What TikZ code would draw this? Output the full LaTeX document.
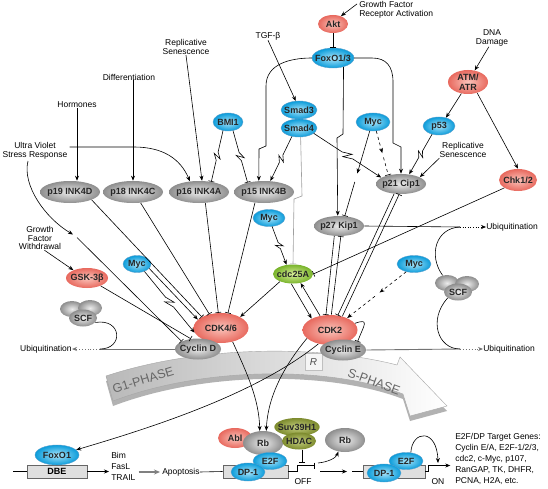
\documentclass[tikz,border=0pt]{standalone}
\usepackage{fontspec}
\setmainfont{Liberation Sans}
\usetikzlibrary{arrows.meta, positioning, calc, shapes.geometric}

\definecolor{redout}{HTML}{E8695E}
\definecolor{redin}{HTML}{FAC4BB}
\definecolor{blueout}{HTML}{0B9CDA}
\definecolor{bluein}{HTML}{A9E4FA}
\definecolor{blueline}{HTML}{1477B8}
\definecolor{grayout}{HTML}{8E8E8E}
\definecolor{grayin}{HTML}{ECECEC}
\definecolor{greenout}{HTML}{79B42B}
\definecolor{greenin}{HTML}{D9EE9A}
\definecolor{oliveout}{HTML}{7D8B2E}
\definecolor{olivein}{HTML}{C2CD7C}

\newcommand{\lblfont}{\fontsize{8.5}{9.5}\selectfont}
\newcommand{\molfont}{\fontsize{9}{9.5}\selectfont\bfseries}

% arrow, gap, then a bar (repression through an intermediate)
\newcommand{\actgap}[3][]{%
    \draw[act,#1] (#2) -- ($(#2)!0.5!(#3)$);
    \draw[inh,#1] ($(#2)!0.6!(#3)$) -- (#3);}
% arrow, gap, arrow
\newcommand{\actact}[3][]{%
    \draw[act,#1] (#2) -- ($(#2)!0.45!(#3)$);
    \draw[act,#1] ($(#2)!0.53!(#3)$) -- (#3);}

\tikzset{
    mol/.style={ellipse, inner xsep=-3pt, inner ysep=0pt, font=\molfont, text=black!85, align=center},
    redmol/.style={mol, shading=radial, inner color=redin, outer color=redout},
    bluemol/.style={mol, shading=radial, inner color=bluein, outer color=blueout, draw=blueline!70, line width=0.4pt},
    graymol/.style={mol, shading=radial, inner color=grayin, outer color=grayout},
    greenmol/.style={mol, shading=radial, inner color=greenin, outer color=greenout},
    olivemol/.style={mol, shading=radial, inner color=olivein, outer color=oliveout},
    molsm/.style={minimum width=30, minimum height=18},
    inkbox/.style={minimum width=60, minimum height=22},
    cdkbox/.style={minimum width=55, minimum height=30},
    lbl/.style={font=\lblfont, align=center, inner sep=0pt},
    dnabox/.style={draw=black!60, fill=gray!25, minimum height=13, inner sep=0pt},
    act/.style={-{Stealth[length=5pt,width=4pt]}},
    inh/.style={-{Bar[width=6pt]}},
    ubq/.style={black!55, line width=0.9pt},
    % lightning-bolt break in the middle of a connector
    zig/.style={to path={-- ($(\tikztostart)!.42!(\tikztotarget)$)
        -- ($(\tikztostart)!.54!(\tikztotarget)!3.5pt!90:(\tikztotarget)$)
        -- ($(\tikztostart)!.46!(\tikztotarget)!3.5pt!-90:(\tikztotarget)$)
        -- ($(\tikztostart)!.58!(\tikztotarget)$) -- (\tikztotarget) \tikztonodes}},
}

\begin{document}
\begin{tikzpicture}[x=1pt, y=-1pt, line width=0.6pt, color=black]
    \fill[white] (0,0) rectangle (548,489);
    \useasboundingbox (0,0) rectangle (548,489);

    % cell cycle band
    \fill[gray!60] (106,381) .. controls (200,350) and (320,350) .. (397,370) -- (400,362) -- (447,411) -- (410,421) -- (403,399) .. controls (330,371) and (205,371) .. (113,406) -- cycle;
    \shadedraw[left color=gray!55, right color=white, draw=gray!70, line width=0.4pt] (106,376) .. controls (200,345) and (320,345) .. (397,365) -- (400,357) -- (447,406) -- (410,416) -- (403,394) .. controls (330,366) and (205,366) .. (113,401) -- cycle;
    \node[draw=gray!50, fill=gray!8, minimum width=17, minimum height=17, inner sep=0pt, font=\fontsize{10}{10}\selectfont\itshape, text=black!70] (rpoint) at (313.5,362) {R};
    \node[rotate=17, font=\fontsize{12.5}{12.5}\selectfont, text=black!60] (gone) at (143,380) {G1-PHASE};
    \node[rotate=-20, font=\fontsize{12.5}{12.5}\selectfont, text=black!60] (sphase) at (374,382) {S-PHASE};

    % labels
    \node[lbl, anchor=west, align=left] (gfr) at (359,10) {Growth Factor\\Receptor Activation};
    \node[lbl] (tgf) at (268,36) {TGF-β};
    \node[lbl] (repsenA) at (186,47) {Replicative\\Senescence};
    \node[lbl] (diff) at (129,77) {Differentiation};
    \node[lbl] (horm) at (77,105) {Hormones};
    \node[lbl] (uv) at (35,151) {Ultra Violet\\Stress Response};
    \node[lbl] (dna) at (492,38) {DNA\\Damage};
    \node[lbl] (repsenB) at (463,150) {Replicative\\Senescence};
    \node[lbl, font=\fontsize{8.5}{8.8}\selectfont] (gfw) at (40,238) {Growth\\Factor\\Withdrawal};
    \node[lbl, anchor=west] (ubA) at (486,227) {Ubiquitination};
    \node[lbl, anchor=west] (ubB) at (483,349) {Ubiquitination};
    \node[lbl, anchor=east] (ubC) at (72,349) {Ubiquitination};

    % upstream molecules
    \node[redmol, molsm] (akt) at (333,24) {Akt};
    \node[bluemol, minimum width=42, minimum height=20] (foxo) at (333,58) {FoxO1/3};
    \node[bluemol, molsm] (bmi) at (228,122) {BMI1};
    \node[bluemol, minimum width=36, minimum height=18] (smadC) at (299,110) {Smad3};
    \node[bluemol, minimum width=36, minimum height=18] (smadD) at (299,128) {Smad4};
    \node[bluemol, minimum width=34, minimum height=18] (mycA) at (373,122) {Myc};
    \node[redmol, minimum width=40, minimum height=24] (atm) at (468,82) {ATM/\\ATR};
    \node[bluemol, minimum width=32, minimum height=18] (p53) at (439,126) {p53};

    % CDK inhibitors
    \node[graymol, inkbox] (p19) at (70,192) {p19 INK4D};
    \node[graymol, inkbox] (p18) at (133,192) {p18 INK4C};
    \node[graymol, inkbox] (p16) at (199,192) {p16 INK4A};
    \node[graymol, inkbox] (p15) at (264,192) {p15 INK4B};
    \node[graymol, minimum width=50, minimum height=20] (p21) at (401,184) {p21 Cip1};
    \node[graymol, minimum width=50, minimum height=20] (p27) at (339,226) {p27 Kip1};
    \node[redmol, minimum width=38, minimum height=22] (chk) at (518,180) {Chk1/2};

    \node[bluemol, minimum width=32, minimum height=17] (mycB) at (269,218) {Myc};
    \node[greenmol, minimum width=40, minimum height=19] (cdc) at (293,274) {cdc25A};
    \node[redmol, minimum width=42, minimum height=20] (gsk) at (87,278) {GSK-3β};
    \node[bluemol, minimum width=28, minimum height=17] (mycC) at (137,264) {Myc};
    \node[bluemol, minimum width=34, minimum height=17] (mycD) at (414,264) {Myc};

    % SCF complexes
    \node[graymol, minimum width=24, minimum height=16] (scfRa) at (447,283) {};
    \node[graymol, minimum width=24, minimum height=16] (scfRb) at (467,284) {};
    \node[graymol, minimum width=28, minimum height=17] (scfR) at (458,292) {SCF};
    \node[graymol, minimum width=24, minimum height=16] (scfLa) at (72,309) {};
    \node[graymol, minimum width=24, minimum height=16] (scfLb) at (90,308) {};
    \node[graymol, minimum width=28, minimum height=17] (scfL) at (83,318) {SCF};

    % CDK/cyclin
    \node[redmol, cdkbox] (cdk46) at (221,328) {CDK4/6};
    \node[redmol, cdkbox] (cdk2) at (330,330) {CDK2};
    \node[graymol, minimum width=46, minimum height=21] (cycD) at (198,349) {Cyclin D};
    \node[graymol, minimum width=46, minimum height=21] (cycE) at (343,350) {Cyclin E};

    % promoters
    \node[dnabox, minimum width=60, font=\molfont] (dbe) at (57,471.5) {DBE};
    \node[bluemol, minimum width=44, minimum height=20] (foxoB) at (57,455) {FoxO1};
    \node[lbl, anchor=west, align=left, font=\fontsize{8.5}{11}\selectfont] (bim) at (111,466) {Bim\\FasL\\TRAIL};
    \node[lbl, anchor=west] (apop) at (162,472) {Apoptosis};
    \node[dnabox, minimum width=65] (promA) at (255.5,471.5) {};
    \node[redmol, minimum width=34, minimum height=20] (abl) at (235,438) {Abl};
    \node[graymol, minimum width=40, minimum height=24] (rb) at (263,443) {Rb};
    \node[olivemol, minimum width=44, minimum height=18] (suv) at (297,427) {Suv39H1};
    \node[olivemol, minimum width=34, minimum height=17] (hdac) at (299,441) {HDAC};
    \node[bluemol, minimum width=34, minimum height=17] (e2fA) at (270,461) {E2F};
    \node[bluemol, minimum width=34, minimum height=18] (dpA) at (248,472) {DP-1};
    \node[lbl] (off) at (303,482) {OFF};
    \node[graymol, minimum width=40, minimum height=24] (rbB) at (345,440) {Rb};
    \node[dnabox, minimum width=62] (promB) at (394,471.5) {};
    \node[bluemol, minimum width=34, minimum height=17] (e2fB) at (406,461) {E2F};
    \node[bluemol, minimum width=34, minimum height=18] (dpB) at (384,473) {DP-1};
    \node[lbl] (on) at (438,482) {ON};
    \node[lbl, anchor=west, align=left, font=\fontsize{8.5}{11}\selectfont] (genes) at (455,459) {E2F/DP Target Genes:\\Cyclin E/A, E2F-1/2/3,\\cdc2, c-Myc, p107,\\RanGAP, TK, DHFR,\\PCNA, H2A, etc.};

    % free ends
    \coordinate (gfrA) at ($(gfr.north west)+(-2,3)$);
    \coordinate (uvA) at ($(uv.north east)+(2,5)$);
    \coordinate (uvB) at (75,236);
    \coordinate (ubAj) at (460,227);
    \coordinate (ubBj) at (460,349);
    \coordinate (ubCj) at (100,349);
    \coordinate (dnaL) at (13,471.5);
    \coordinate (offA) at (320,471.5);
    \coordinate (offB) at (347,471.5);
    \coordinate (offC) at (352,471.5);
    \coordinate (relA) at (318,463);
    \coordinate (onA) at (438,463);

    % upstream signals
    \draw[act] (gfrA) -- (akt.45);
    \draw[inh] (akt) -- (foxo);
    \draw[act] (tgf.south) -- (smadC.110);
    \draw[act] (foxo.west) .. controls (290,58) and (266,64) .. (266,86) -- (266,146) -- (259,149) -- (p15.115);
    \draw[act] (foxo.-40) -- (343,134) -- (337,138) -- (p27.97);
    \draw[act] (foxo.east) -- (372,58) .. controls (386,58) and (393,66) .. (393,82) -- (393,143) -- (401,147) -- (p21.north);
    \draw[act] (dna.-110) -- (atm.60);
    \draw[act] (atm.-120) -- (p53.50);
    \draw[act] (atm.-50) -- (chk.north);
    \draw[act] (p53.-130) to[zig] (p21.50);
    \draw[act] (repsenB.south west) -- (p21.20);
    \actgap[dashed]{mycA.-70}{p21.145}
    \actgap{mycA.-110}{p27.60}
    \draw[act] (smadD.-20) to[zig] (p21.162);
    \draw[act] (smadD.-130) to[zig] (p15.60);
    \draw[inh, gray!75] (smadD.-80) -- (302,196) -- (294,199) -- (cdc.north);
    \draw[inh] (bmi.-120) to[zig] (p16.40);
    \draw[inh] (bmi.-60) to[zig] (p15.150);
    \draw[act] (repsenA.south) -- (p16.75);
    \draw[act] (diff.south -| p18) -- (p18.north);
    \draw[act] (horm.south) -- (horm.south |- p19.north);
    \draw[act] (uvA) -- (134,147) .. controls (162,147) and (180,158) .. (p16.130);
    \draw[act] ($(uv.south)+(-7,1)$) .. controls (22,185) and (45,218) .. ($(uvB)+(-2,-1.5)$);
    \draw[inh] ($(uvB)+(2,1.5)$) -- (cycD.155);
    \draw[act] (gfw.-70) -- (gsk.150);
    \draw[inh] (gsk.-30) -- (cycD.125);

    % G1 control
    \draw[inh] (p19.-20) -- (cdk46.150);
    \draw[inh] (p18.-55) -- (cdk46.130);
    \draw[inh] (p16.-60) -- (cdk46.100);
    \draw[inh] (p15.-130) -- (cdk46.65);
    \draw[act] (mycC.-20) -- (cdk46.160);
    \draw[act] (mycC.-45) to[zig] (cdk46.190);
    \draw[act] (mycB.-70) to[zig] (cdc.125);
    \draw[act] (cdc.-150) -- (cdk46.30);
    \draw[act] (cdc.-100) -- (cdk2.148);
    \draw[act] (cdk2.125) -- (cdc.-50);
    \draw[inh] (chk.-150) -- (cdc.east);
    \draw[inh] (p27.-115) -- (cdk2.105);
    \draw[inh] (cdk2.85) -- (p27.-80);
    \draw[inh] (p21.-125) -- (cdk2.62);
    \draw[inh] (cdk2.48) -- (p21.-100);
    \actact[dashed]{mycD.-135}{cdk2.35}
    \draw[inh] (cdk2.15) .. controls (370,318) and (364,325) .. (cycE.30);

    % ubiquitination
    \draw (p27.east) -- (ubAj);
    \draw[act, dotted] (ubAj) -- (ubA.west);
    \draw[ubq] (cycE.east) -- (ubBj);
    \draw[act, dotted, ubq] (ubBj) -- (ubB.west);
    \draw[ubq] (cycD.west) -- (ubCj);
    \draw[act, dotted, ubq] (ubCj) -- (ubC.east);
    \draw (scfRa.120) .. controls (428,255) and (436,228) .. (ubAj);
    \draw (scfR.-150) .. controls (428,320) and (438,349) .. (ubBj);
    \draw (scfL.-20) .. controls (122,318) and (124,349) .. (ubCj);

    % Rb and FoxO1
    \draw[act] (cdk46.-50) .. controls (248,375) and (259,400) .. (rb.105);
    \draw[act] (cdk2.-160) .. controls (285,365) and (268,395) .. (rb.75);
    \draw[act] (cdk2.-130) .. controls (255,395) and (150,428) .. (foxoB.15);

    % transcription
    \draw (dnaL) -- (dbe.west);
    \draw[act, shorten >=2pt] (dbe.east) -- (dbe.east -| bim.west);
    \draw[-{Stealth[length=6pt,width=5pt]}, gray, line width=1.4pt, shorten >=2pt, shorten <=3pt] (bim.east |- apop) -- (apop.west);
    \draw (apop.east) -- (promA.west);
    \draw[inh] (promA.east) -- ++(9,0) |- ++(17,-6);
    \draw[inh] (hdac.-70) -- ++(0,13);
    \draw[act] (offA) -- (offB);
    \draw (offC) -- (promB.west);
    \draw[act] (relA) .. controls (328,462) and (336,458) .. (rbB.-120);
    \draw[act] (promB.east) -- ++(3,0) |- ++(22,-6);
    \draw[act] (e2fB.60) .. controls (412,430) and (437,428) .. (onA);
\end{tikzpicture}
\end{document}
